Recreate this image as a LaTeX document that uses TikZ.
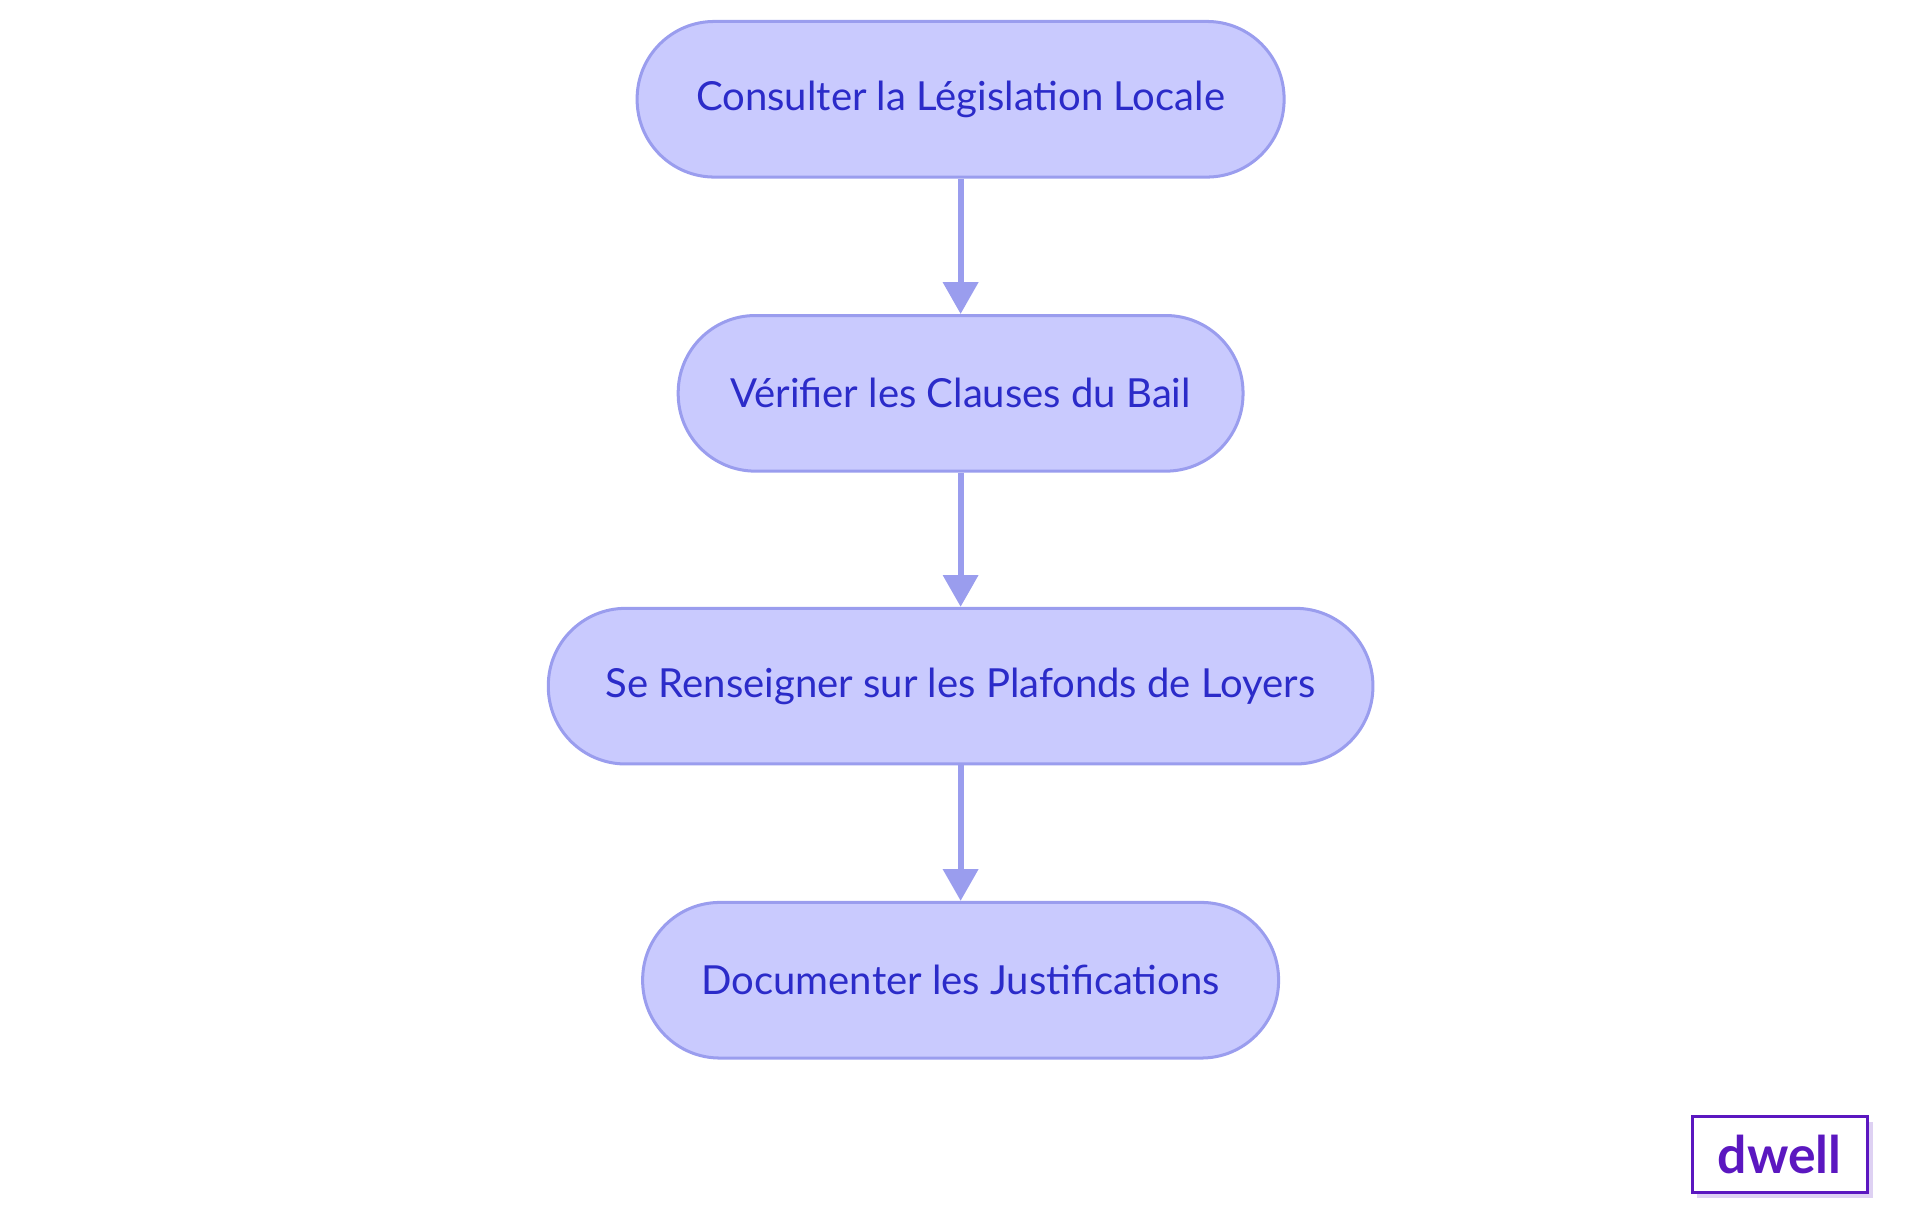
\documentclass[tikz,border=0pt]{standalone}
\usepackage{fontspec}
\setmainfont{Lato}
\usetikzlibrary{positioning,arrows.meta}
\definecolor{boxfill}{HTML}{C9CAFE}
\definecolor{boxline}{HTML}{9A9DEE}
\definecolor{boxtext}{HTML}{2B2BC9}
\definecolor{logo}{HTML}{5B17C0}
\tikzset{
  stage/.style={draw=boxline, fill=boxfill, line width=0.7pt, rounded corners=0.63cm,
    minimum height=1.27cm, text=boxtext, font=\fontsize{9.3}{11}\selectfont},
  flow/.style={draw=boxline, line width=1.4pt, -{Triangle[length=0.26cm,width=0.28cm]}}
}
\begin{document}
\begin{tikzpicture}
  \useasboundingbox (0,0) rectangle (15.67,-9.92);
  \node[stage, minimum width=5.28cm] (consult) at (7.84,-0.81) {Consulter la Législation Locale};
  \node[stage, minimum width=4.61cm] (verif) at (7.84,-3.21) {Vérifier les Clauses du Bail};
  \node[stage, minimum width=6.73cm] (plafond) at (7.84,-5.60) {Se Renseigner sur les Plafonds de Loyers};
  \node[stage, minimum width=5.19cm] (justif) at (7.84,-8.00) {Documenter les Justifications};
  \draw[flow] (consult) -- (verif);
  \draw[flow] (verif) -- (plafond);
  \draw[flow] (plafond) -- (justif);
  % logo
  \fill[logo!20] (13.85,-9.16) rectangle (15.29,-9.78);
  \node[draw=logo, fill=white, line width=0.7pt, minimum width=1.43cm, minimum height=0.62cm,
    text=logo, font=\bfseries\fontsize{12}{14}\selectfont] (brand) at (14.525,-9.42) {dwell};
\end{tikzpicture}
\end{document}
